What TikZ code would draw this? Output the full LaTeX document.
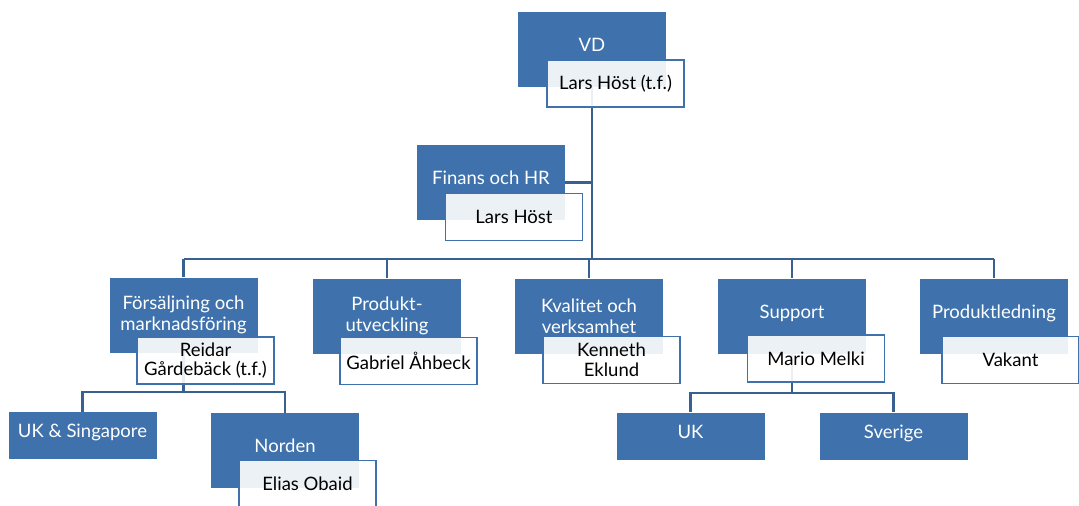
\documentclass[tikz,border=0pt]{standalone}
\usepackage{fontspec}
\setmainfont{Lato}
\usetikzlibrary{backgrounds}
\definecolor{unitblue}{RGB}{63,114,172}
\definecolor{linkblue}{RGB}{56,97,146}
\tikzset{
  unit/.style={fill=unitblue, text=white, minimum width=148pt, minimum height=75pt,
    align=center, inner sep=0pt, font=\fontsize{18.5}{21}\selectfont},
  oneline/.style={text height=13.5pt, text depth=9pt},
  leaf/.style={unit, oneline, minimum height=47pt},
  head/.style={draw=unitblue, line width=1.8pt, fill=white, fill opacity=0.9,
    text opacity=1, text=black, minimum width=137pt, minimum height=47pt,
    align=center, inner sep=0pt, font=\fontsize{18.5}{19.5}\selectfont},
  link/.style={draw=linkblue, line width=2.5pt}
}
\begin{document}
\begin{tikzpicture}[x=1pt, y=-1pt]
    \useasboundingbox (0,0) rectangle (1079,506);
    % units
    \node[unit, oneline] (vd) at (592,49.5) {VD};
    \node[unit, oneline] (fin) at (491,182.5) {Finans och HR};
    \node[unit] (sales) at (183.5,315) {Försäljning och\\marknadsföring};
    \node[unit] (dev) at (387,316) {Produkt-\\utveckling};
    \node[unit] (qa) at (589,316) {Kvalitet och\\verksamhet};
    \node[unit, oneline] (sup) at (792,316) {Support};
    \node[unit, oneline] (pl) at (994,316) {Produktledning};
    \node[leaf] (uks) at (82.5,435.5) {UK \& Singapore};
    \node[unit, oneline] (nor) at (285,450.5) {Norden};
    \node[leaf] (uk) at (690.5,436) {UK};
    \node[leaf] (sve) at (893.5,436) {Sverige};
    % heads
    \node[head] (vdh) at (615.5,83.5) {Lars Höst (t.f.)};
    \node[head] (finh) at (514,217) {Lars Höst};
    \node[head] (salesh) at (205.5,360.5) {Reidar\\Gårdebäck (t.f.)};
    \node[head] (devh) at (408.5,361) {Gabriel Åhbeck};
    \node[head] (qah) at (611.5,360) {Kenneth\\Eklund};
    \node[head] (suph) at (816,358.5) {Mario Melki};
    \node[head] (plh) at (1010.5,360) {Vakant};
    \node[head] (norh) at (307.5,484) {Elias Obaid};
    % connectors
    \coordinate (bus) at (592,259);
    \coordinate (salesbus) at (183.5,392);
    \coordinate (supbus) at (792,393);
    \begin{scope}[on background layer]
        \draw[link] (vd) -- (vd |- bus);
        \draw[link] (fin.east) -- (fin.east -| vd);
        \draw[link] (sales |- bus) -- (pl |- bus);
        \foreach \u in {sales,dev,qa,sup,pl}
            \draw[link] (\u |- bus) -- (\u.north);
        \draw[link] (sales) -- (salesbus);
        \draw[link] (uks.north) |- (salesbus) -| (nor.north);
        \draw[link] (sup) -- (supbus);
        \draw[link] (uk.north) |- (supbus) -| (sve.north);
    \end{scope}
\end{tikzpicture}
\end{document}
